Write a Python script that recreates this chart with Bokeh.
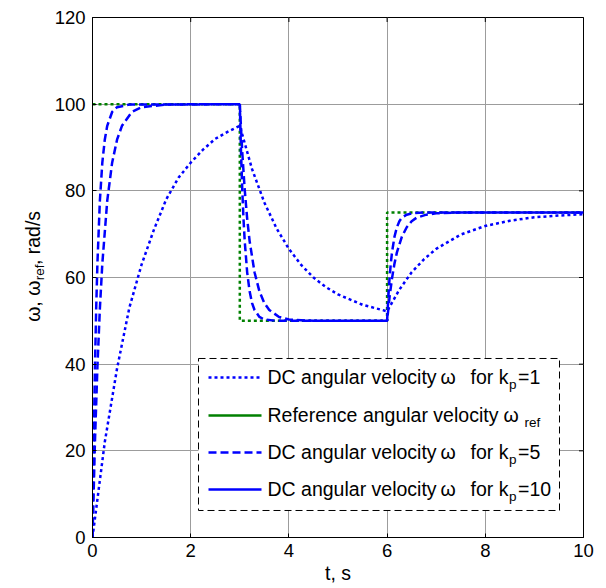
from math import pi
from bokeh.plotting import figure
from bokeh.layouts import row
from bokeh.models import Range1d, FixedTicker, Label
from bokeh.core.properties import value
from bokeh.embed import file_html
from bokeh.resources import INLINE

# ---------------- data ----------------
x_ticks = [0, 2, 4, 6, 8, 10]
y_ticks = [0, 20, 40, 60, 80, 100, 120]

# reference angular velocity (step profile)
t_ref = [0, 3, 3, 6, 6, 10]
w_ref = [100, 100, 50, 50, 75, 75]

# DC angular velocity, kp = 1
t_kp1 = [0, 0.25, 0.5, 0.75, 1.0, 1.25, 1.5, 1.75, 2.0, 2.25, 2.5, 2.75, 3.0,
         3.25, 3.5, 3.75, 4.0, 4.25, 4.5, 4.75, 5.0, 5.5, 6.0,
         6.25, 6.5, 6.75, 7.0, 7.5, 8.0, 8.5, 9.0, 9.5, 10.0]
w_kp1 = [0, 22, 39, 53, 63, 71, 78, 83, 86.5, 89.5, 92, 93.6, 95,
         85, 77.3, 71.3, 66.6, 62.9, 60, 57.8, 56.1, 53.7, 52.2,
         57.2, 61.2, 64.2, 66.6, 69.9, 71.9, 73.1, 73.9, 74.3, 74.6]

# DC angular velocity, kp = 5
t_kp5 = [0, 0.05, 0.1, 0.15, 0.2, 0.3, 0.4, 0.5, 0.6, 0.8, 1.0, 1.5, 3.0,
         3.05, 3.1, 3.15, 3.2, 3.3, 3.4, 3.5, 3.6, 3.8, 4.0, 4.5, 6.0,
         6.05, 6.1, 6.15, 6.2, 6.3, 6.4, 6.5, 6.6, 6.8, 7.0, 7.5, 10.0]
w_kp5 = [0, 22.1, 39.3, 52.8, 63.2, 77.7, 86.5, 91.8, 95.0, 98.2, 99.3, 99.9, 100,
         88.9, 80.3, 73.6, 68.4, 61.2, 56.8, 54.1, 52.5, 50.9, 50.3, 50.0, 50,
         55.5, 59.8, 63.2, 65.8, 69.4, 71.6, 73.0, 73.8, 74.5, 74.8, 75.0, 75]

# DC angular velocity, kp = 10
t_kp10 = [0, 0.025, 0.05, 0.075, 0.1, 0.15, 0.2, 0.25, 0.3, 0.4, 0.5, 0.75, 3.0,
          3.025, 3.05, 3.075, 3.1, 3.15, 3.2, 3.25, 3.3, 3.4, 3.5, 3.75, 6.0,
          6.025, 6.05, 6.075, 6.1, 6.15, 6.2, 6.25, 6.3, 6.4, 6.5, 6.75, 10.0]
w_kp10 = [0, 22.1, 39.3, 52.8, 63.2, 77.7, 86.5, 91.8, 95.0, 98.2, 99.3, 99.9, 100,
          88.9, 80.3, 73.6, 68.4, 61.2, 56.8, 54.1, 52.5, 50.9, 50.3, 50.0, 50,
          55.5, 59.8, 63.2, 65.8, 69.4, 71.6, 73.0, 73.8, 74.5, 74.8, 75.0, 75]

legend_kp = ["=1", "=5", "=10"]

# ---------------- styling ----------------
BLUE = "#0000ff"
GREEN = "#008000"
FONT = "Liberation Sans"
FS = "19.5px"
TICK_FS = "18.5px"
SUB_FS = "13.5px"
H = 586
LW = 50   # width of the strip that carries the y-axis title

p = figure(width=604 - LW, height=H, x_range=Range1d(0, 10), y_range=Range1d(0, 120),
           output_backend="svg", toolbar_location=None,
           min_border_left=92 - LW, min_border_right=21, min_border_top=17,
           min_border_bottom=H - 537)
p.background_fill_color = "white"
p.border_fill_color = "white"
p.outline_line_color = "black"
p.outline_line_width = 1

for ax in (p.xaxis[0], p.yaxis[0]):
    ax.major_tick_in = 4
    ax.major_tick_out = 0
    ax.minor_tick_in = 0
    ax.minor_tick_out = 0
    ax.axis_line_color = "black"
    ax.major_tick_line_color = "black"
    ax.major_label_text_font = FONT
    ax.major_label_text_font_size = TICK_FS
    ax.major_label_text_color = "black"
p.xaxis.ticker = FixedTicker(ticks=x_ticks)
p.yaxis.ticker = FixedTicker(ticks=y_ticks)
p.xaxis.major_label_standoff = 6
p.yaxis.major_label_standoff = 7
p.xaxis.axis_label = "t, s"
p.xaxis.axis_label_text_font = FONT
p.xaxis.axis_label_text_font_size = FS
p.xaxis.axis_label_text_font_style = "normal"
p.xaxis.axis_label_text_color = "black"
p.xaxis.axis_label_standoff = 2

p.xgrid.ticker = FixedTicker(ticks=x_ticks)
p.ygrid.ticker = FixedTicker(ticks=y_ticks)
for g in (p.xgrid[0], p.ygrid[0]):
    g.grid_line_color = "#9c9c9c"
    g.grid_line_width = 1

# inward ticks on the top and right edges (box on); half of each dash is clipped
p.dash(x=[10] * len(y_ticks), y=y_ticks, size=9, angle=0, line_color="black", line_width=1)
p.dash(x=x_ticks, y=[120] * len(x_ticks), size=9, angle=pi / 2, line_color="black", line_width=1)

# ---------------- curves ----------------
p.line(t_ref, w_ref, line_color=GREEN, line_width=2.5, line_dash="3 3")
p.line(t_kp1, w_kp1, line_color=BLUE, line_width=2.5, line_dash="3 3")
p.line(t_kp5, w_kp5, line_color=BLUE, line_width=2.5, line_dash="8 4")
p.line(t_kp10, w_kp10, line_color=BLUE, line_width=2.5, line_dash="8 4")

# ---------------- legend (drawn by hand for subscripts) ----------------
px = lambda X: (X - 92) / 49.1          # page pixel -> t
py = lambda Y: (537 - Y) / 4.333        # page pixel -> omega

p.quad(left=px(198), right=px(559), top=py(358), bottom=py(510),
       fill_color="white", line_color="black", line_width=1, line_dash="7 4")

rows = [py(377), py(415), py(452), py(489)]
styles = [(BLUE, "3 3"), (GREEN, "solid"), (BLUE, "8 4"), (BLUE, "solid")]
for r, (c, d) in zip(rows, styles):
    p.line([px(208), px(261)], [r, r], line_color=c, line_width=2.5, line_dash=d)

def lab(x, y, text, size=FS, **kw):
    p.add_layout(Label(x=x, y=y, text=text, text_font=FONT, text_font_size=size,
                       text_color="black", **kw))

for r, kp in zip([rows[0], rows[2], rows[3]], legend_kp):
    lab(px(267), r, "DC angular velocity", text_baseline="middle")
    lab(px(440), r, "\u03c9", text_baseline="middle")
    lab(px(470), r, "for k", text_baseline="middle")
    lab(px(508.5), r - 1.6, "p", size=SUB_FS, text_baseline="middle")
    lab(px(517.5), r, kp, text_baseline="middle")

lab(px(267), rows[1], "Reference angular velocity", text_baseline="middle")
lab(px(503), rows[1], "\u03c9", text_baseline="middle")
lab(px(524), rows[1] - 1.6, "ref", size=SUB_FS, text_baseline="middle")

# ---------------- y-axis title strip (pixel coordinates, y downwards) ----------------
q = figure(width=LW, height=H, x_range=Range1d(0, LW), y_range=Range1d(H, 0),
           output_backend="svg", toolbar_location=None, x_axis_type=None, y_axis_type=None,
           min_border=0, min_border_left=0, min_border_right=0, min_border_top=0,
           min_border_bottom=0)
q.outline_line_color = None
q.xgrid.visible = False
q.ygrid.visible = False
q.background_fill_color = "white"
q.border_fill_color = "white"
q.text(x=[32], y=[343], text=["\u03c9, \u03c9"], angle=pi / 2, text_align="left",
       text_baseline="alphabetic", text_font=value(FONT), text_font_size=value(FS),
       text_color="black")
q.text(x=[39], y=[296], text=["ref"], angle=pi / 2, text_align="left",
       text_baseline="alphabetic", text_font=value(FONT), text_font_size=value(SUB_FS),
       text_color="black")
q.text(x=[32], y=[279], text=[", rad/s"], angle=pi / 2, text_align="left",
       text_baseline="alphabetic", text_font=value(FONT), text_font_size=value(FS),
       text_color="black")

layout = row(q, p, spacing=0)
open("out.html", "w").write(file_html(layout, INLINE))
